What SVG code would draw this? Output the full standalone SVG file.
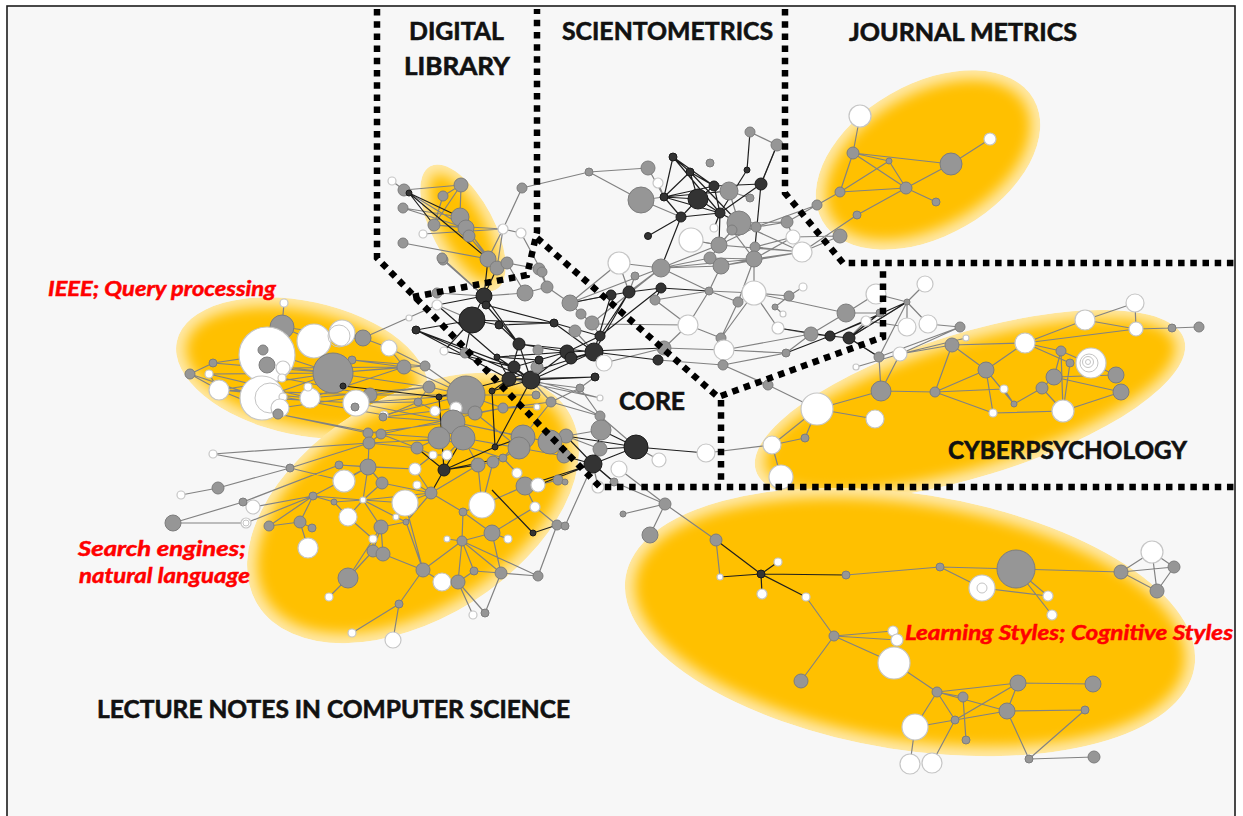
<svg xmlns="http://www.w3.org/2000/svg" width="1243" height="816" viewBox="0 0 1243 816">
<defs>
<filter id="soft" x="-30%" y="-30%" width="160%" height="160%"><feGaussianBlur stdDeviation="6.5"/></filter>
<clipPath id="cA"><ellipse cx="463" cy="228" rx="70" ry="31" transform="rotate(62 463 228)"/></clipPath>
<clipPath id="cB"><ellipse cx="928" cy="160" rx="122" ry="76" transform="rotate(-30 928 160)"/></clipPath>
<clipPath id="cC"><ellipse cx="970" cy="405" rx="224" ry="72" transform="rotate(-17 970 405)"/></clipPath>
<clipPath id="cD"><ellipse cx="910" cy="622" rx="288" ry="128" transform="rotate(9 910 622)"/></clipPath>
<clipPath id="cE"><ellipse cx="302" cy="368" rx="128" ry="67" transform="rotate(12 302 368)"/></clipPath>
<clipPath id="cF"><ellipse cx="413" cy="508" rx="183" ry="111" transform="rotate(-32 413 508)"/></clipPath>
<style>
.bg{fill:#f7f7f7;stroke:#1c1c1c;stroke-width:1.6}
.rim{fill:#FFE9A8}
.core{fill:#FFC000;filter:url(#soft)}
.eg{fill:none;stroke:#828282;stroke-width:1.2}
.ed{fill:none;stroke:#1f1f1f;stroke-width:1.2}
.g{fill:#969696;stroke:#7d7d7d;stroke-width:1}
.w{fill:#fff;stroke:#c6c6c6;stroke-width:1.2}
.d{fill:#333;stroke:#1a1a1a;stroke-width:1}
.ring{fill:none;stroke:#c4c4c4;stroke-width:1}
.zone{fill:none;stroke:#000;stroke-width:6.5;stroke-dasharray:6.5 5.7}
.lbl{font-family:Lato,'Liberation Sans',sans-serif;font-weight:bold;font-size:25px;fill:#111;stroke:#111;stroke-width:0.6}
.tag{font-family:Lato,'Liberation Sans',sans-serif;font-weight:bold;font-style:italic;font-size:21px;fill:#f00;stroke:#f00;stroke-width:0.5}
</style>
</defs>

<rect x="0" y="0" width="1243" height="816" fill="#fff"/>
<rect class="bg" x="7" y="6" width="1228" height="830"/>

<!-- community areas: pale rim with a softened solid core -->
<g id="areas">
<g clip-path="url(#cA)"><ellipse class="rim" cx="463" cy="228" rx="70" ry="31" transform="rotate(62 463 228)"/><ellipse class="core" cx="463" cy="228" rx="60" ry="22" transform="rotate(62 463 228)"/></g>
<g clip-path="url(#cB)"><ellipse class="rim" cx="928" cy="160" rx="122" ry="76" transform="rotate(-30 928 160)"/><ellipse class="core" cx="928" cy="160" rx="112" ry="66" transform="rotate(-30 928 160)"/></g>
<g clip-path="url(#cC)"><ellipse class="rim" cx="970" cy="405" rx="224" ry="72" transform="rotate(-17 970 405)"/><ellipse class="core" cx="970" cy="405" rx="214" ry="62" transform="rotate(-17 970 405)"/></g>
<g clip-path="url(#cD)"><ellipse class="rim" cx="910" cy="622" rx="288" ry="128" transform="rotate(9 910 622)"/><ellipse class="core" cx="910" cy="622" rx="278" ry="118" transform="rotate(9 910 622)"/></g>
<g clip-path="url(#cE)"><ellipse class="rim" cx="302" cy="368" rx="128" ry="67" transform="rotate(12 302 368)"/><ellipse class="core" cx="302" cy="368" rx="118" ry="57" transform="rotate(12 302 368)"/></g>
<g clip-path="url(#cF)"><ellipse class="rim" cx="413" cy="508" rx="183" ry="111" transform="rotate(-32 413 508)"/><ellipse class="core" cx="413" cy="508" rx="173" ry="101" transform="rotate(-32 413 508)"/></g>
</g>

<g id="connectors">
<path class="eg" d="M404,190L392,181M404,190L461,185M404,190L466,228M443,196L461,185M443,196L434,225M461,185L460,217M461,185L434,225M434,225L503,229M434,225L466,228M403,208L460,217M403,208L466,228M423,234L503,229M403,243L488,259M460,217L488,259M466,228L497,268M469,236L488,259M503,229L522,188M503,229L497,268M503,229L521,233M503,229L488,259M522,188L589,172M589,172L648,168M443,260L484,296M507,263L539,269M507,263L525,293M521,233L542,272M589,172L641,200M648,168L664,197"/>
<path class="eg" d="M750,132L777,145M777,145L761,184M729,191L750,198M739,223L756,227M739,223L787,222M756,227L787,222M787,222L793,237M754,259L802,252M721,266L754,259M719,245L756,227M719,245L802,252M710,258L754,259M721,266L802,252M732,230L754,259M755,247L802,252M755,247L793,237M719,245L691,240M710,258L661,268M719,245L661,268M721,266L661,268M754,259L661,268M739,223L719,245M729,191L739,223M658,183L664,197M641,200L664,197M739,223L802,252M754,259L793,237M732,230L710,258M641,200L681,217"/>
<path class="eg" d="M860,116L853,153M853,153L889,161M853,153L840,192M853,153L906,188M853,153L951,164M889,161L840,192M889,161L906,188M840,192L906,188M906,188L936,202M906,188L951,164M951,164L990,139M840,192L817,205M817,205L787,222M906,188L857,215M857,215L802,252M840,236L802,252M840,236L793,237M817,205L756,227"/>
<path class="eg" d="M619,263L661,268M619,263L629,292M661,268L629,292M661,268L709,291M754,259L754,293M754,259L738,302M721,266L709,291M709,291L738,302M738,302L754,293M754,293L789,296M789,296L803,287M789,296L775,307M775,307L783,314M754,293L846,313M738,302L721,338M721,338L724,350M688,325L664,348M688,325L655,300M635,276L629,292M661,268L570,303M661,268L592,323M688,325L591,324M664,348L604,363M721,338L688,325M724,350L786,353M724,350L811,334M664,348L724,350M723,365L724,350M723,365L768,385M768,385L817,409M723,365L786,353M778,328L811,334M754,293L778,328M811,334L846,313M846,313L876,294M846,313L880,313M876,294L907,302M786,353L811,334M570,303L611,295M570,303L581,314M581,314L592,323M592,323L600,336M575,331L594,352M570,303L547,287M547,287L525,293M525,293L484,296M542,272L547,287M539,269L547,287M442,258L484,296M437,293L484,296M437,305L472,320M691,240L719,245M688,325L709,291M655,300L709,291M619,263L570,303M754,293L721,338M709,291L754,293M658,360L723,365"/>
<path class="eg" d="M925,284L907,302M907,302L849,338M907,302L928,324M907,302L907,327M907,302L879,357M880,313L849,338M866,321L849,338M866,321L907,327M960,327L928,324M960,327L900,354M960,327L879,357M879,357L881,391M879,357L849,338M952,345L1025,343M952,345L935,392M952,345L986,370M952,345L900,354M1025,343L986,370M1025,343L1061,351M1025,343L1085,320M1085,320L1135,303M1085,320L1136,329M1135,303L1136,329M1136,329L1172,328M1172,328L1199,327M1061,351L1054,377M1061,351L1063,411M1070,363L1063,411M1054,377L1116,375M1054,377L1121,392M1054,377L1042,388M1063,411L1121,392M986,370L935,392M986,370L1014,404M986,370L993,413M935,392L1004,389M935,392L993,413M935,392L881,391M1042,388L1014,404M1042,388L1063,411M993,413L1063,411M1004,389L1014,404M881,391L817,409M817,409L875,419M817,409L805,438M817,409L772,445M900,354L881,391M1070,363L1025,343M1061,351L1116,375M805,438L772,445M856,367L900,354M900,354L966,338M1025,343L1136,329"/>
<path class="eg" d="M551,402L600,416M551,402L580,388M580,388L600,416M601,430L600,416M601,430L566,436M600,449L566,436M600,416L636,447M580,388L595,377M600,398L509,379M600,398L531,380M566,436L550,442M564,456L550,442M564,456L519,448M614,482L593,464M614,482L665,504M619,469L665,504M665,504L650,535M665,504L623,514M665,504L716,540M706,453L772,445M772,445L781,477M636,447L659,460M600,449L593,464M580,388L509,379M551,402L531,380M600,416L531,380M598,487L593,464"/>
<path class="eg" d="M716,540L720,577M846,575L940,567M940,567L1016,569M940,567L982,588M982,588L1048,596M1016,569L1048,596M1016,569L1052,615M1016,569L1121,572M1121,572L1152,552M1121,572L1174,567M1121,572L1157,591M1152,552L1157,591M1174,567L1157,591M1152,552L1174,567M806,597L834,636M834,636L893,631M834,636L894,663M834,636L801,681M894,663L937,692M937,692L1018,683M937,692L963,697M937,692L1007,711M937,692L955,720M937,692L915,727M1018,683L1093,684M1018,683L1007,711M963,697L966,740M1007,711L1085,710M1007,711L1029,759M1085,710L1029,759M1029,759L1094,757M915,727L955,720M915,727L910,764M955,720L932,763M955,720L1007,711M1018,683L955,720M834,636L897,640"/>
<path class="eg" d="M190,374L213,363M213,363L333,373M209,374L333,373M219,390L333,373M219,390L370,395M209,374L310,398M190,374L262,398M213,363L267,355M333,373L404,367M333,373L425,366M333,373L429,387M363,338L389,348M370,395L429,387M370,395L466,395M356,403L466,395M310,398L429,387M282,378L370,395M283,397L384,415M280,408L370,395M278,414L368,433M283,368L404,367M267,365L333,373M262,398L333,373M314,341L363,338M342,333L363,338M282,327L314,341M282,327L284,303M352,360L404,367M352,360L425,366M389,348L425,366M389,348L404,367M404,367L466,395M425,366L466,395M384,415L466,395M356,403L453,422M356,403L418,402M363,338L437,305M219,390L310,398M209,374L219,390M190,374L219,390M263,350L333,373M282,327L363,338M310,398L404,367M278,414L381,434M262,398L356,403M219,390L278,414"/>
<path class="eg" d="M173,523L243,502M243,502L339,465M339,465L368,467M181,495L218,488M218,488L290,468M290,468L369,443M213,454L290,468M246,523L313,496M253,507L313,496M269,526L313,496M269,526L300,522M300,522L312,528M300,522L308,548M313,496L334,502M334,502L363,500M313,496L363,500M313,496L300,522M334,502L348,517M363,500L348,517M363,500L381,527M363,500L396,517M363,500L405,503M363,500L431,493M363,500L382,483M363,500L368,467M382,483L368,467M382,483L431,493M381,527L373,551M381,527L383,554M381,527L406,522M406,522L396,517M406,522L423,570M406,522L431,493M405,503L431,493M431,493L463,512M431,493L417,485M431,493L415,469M431,493L478,465M463,512L492,533M463,512L462,541M463,512L482,505M462,541L492,533M462,541L447,539M462,541L423,570M462,541L474,571M462,541L501,573M462,541L458,582M492,533L508,539M492,533L501,573M423,570L383,554M423,570L442,582M423,570L399,604M399,604L352,633M399,604L393,640M458,582L474,571M474,571L501,573M501,573L485,613M458,582L485,613M458,582L473,615M348,578L329,597M348,578L373,551M373,539L373,551M373,551L383,554M373,539L348,517M308,548L300,522M368,467L344,481M368,467L415,469M368,467L369,443M369,443L417,448M369,443L381,434M381,434L417,448M417,448L439,438M417,448L433,455M415,469L433,455M433,455L447,455M447,455L463,438M478,465L463,438M478,465L493,462M493,462L503,458M503,458L519,448M503,458L523,437M478,465L482,505M482,505L525,486M482,505L493,462M525,486L538,485M525,486L517,473M517,473L503,458M538,485L558,480M558,480L565,482M535,507L557,525M557,525L565,526M557,525L538,576M535,507L492,533M525,486L535,507M453,422L523,437M466,395L503,408M503,408L551,402M503,408L537,407M475,413L503,408M475,413L519,448M466,395L536,395M453,422L550,442M439,438L503,458M463,438L519,448M523,437L550,442M550,442L566,436M523,437L551,402M418,402L429,387M418,402L435,411M435,411L456,408M456,408L466,395M429,387L466,395M383,417L418,402M383,417L435,411M368,433L453,422M381,434L439,438M369,443L463,438M383,417L453,422M381,434L503,408M173,523L246,523M290,468L344,481M405,503L423,570M462,541L538,576M501,573L538,576M348,578L381,527M442,582L458,582M565,526L593,464M213,454L369,443M339,465L415,469M313,496L368,467"/>
<path class="ed" d="M673,157L690,172M673,157L664,197M673,157L714,186M690,172L698,199M690,172L714,186M690,172L664,197M664,197L698,199M664,197L681,217M664,197L714,186M664,197L720,213M664,197L729,191M698,199L714,186M698,199L720,213M698,199L681,217M714,186L720,213M681,217L720,213M681,217L648,236M681,217L661,268M720,213L739,223M720,213L714,228M747,170L720,213M761,184L720,213M761,184L777,145M747,170L750,132M714,186L761,184M690,172L739,223M673,157L720,213M720,213L719,245M761,184L755,247M409,193L434,225M409,193L488,259M409,193L460,217"/>
<path class="ed" d="M484,296L472,320M484,296L486,305M484,296L437,305M484,296L519,344M472,320L416,330M472,320L499,325M472,320L465,353M472,320L444,351M486,305L519,344M486,305L554,323M499,325L519,344M499,325L554,323M519,344L509,379M519,344L531,380M519,344L567,352M519,344L594,352M497,357L509,379M497,357L531,380M497,357L567,352M514,367L531,380M514,367L567,352M509,379L531,380M509,379L594,352M531,380L594,352M531,380L567,352M554,323L594,352M554,323L600,336M567,352L600,336M571,358L594,352M594,352L611,295M594,352L629,292M600,336L629,292M594,352L658,360M600,336L661,288M416,330L509,379M437,305L497,357M509,379L439,397M509,379L492,391M531,380L492,391M531,380L595,377M595,377L509,379M416,330L531,380M472,320L554,323M567,352L664,348M629,292L611,295M629,292L661,288M661,288L709,291M611,295L570,303M661,288L655,300M488,259L484,296M497,268L484,296M539,360L531,380M539,360L497,357M416,330L514,367M444,351L514,367"/>
<path class="ed" d="M439,397L444,470M444,470L495,447M444,470L417,448M444,470L431,493M444,470L463,438M444,470L478,465M444,470L503,458M495,447L523,437M495,447L531,380M533,533L557,525M533,533L492,490M343,386L439,397M492,391L495,447M593,464L636,447M593,464L566,436M593,464L564,456M593,464L525,486M593,464L538,485M636,447L600,449M636,447L601,430M636,447L566,436M636,447L706,453M593,464L601,430M593,464L614,482M811,334L830,336M830,336L849,338M849,338L880,313M849,338L907,302M830,336L907,302M830,336L866,321M849,338L879,357M786,353L830,336M778,328L830,336M716,540L761,574M761,574L778,562M761,574L762,594M761,574L806,597M761,574L846,575M720,577L761,574"/>
</g>

<g id="cluster-digital-library">
<circle id="n1" class="w" cx="392" cy="181" r="4"/><circle id="n2" class="g" cx="404" cy="190" r="6"/><circle id="n3" class="d" cx="409" cy="193" r="3"/><circle id="n4" class="g" cx="461" cy="185" r="7"/><circle id="n5" class="g" cx="443" cy="196" r="5"/><circle id="n6" class="g" cx="403" cy="208" r="5"/><circle id="n7" class="g" cx="434" cy="225" r="6"/><circle id="n8" class="w" cx="423" cy="234" r="4"/><circle id="n9" class="g" cx="460" cy="217" r="9"/><circle id="n10" class="g" cx="466" cy="228" r="8"/><circle id="n11" class="g" cx="469" cy="236" r="6"/><circle id="n12" class="g" cx="403" cy="243" r="5"/><circle id="n13" class="w" cx="503" cy="229" r="5"/><circle id="n14" class="w" cx="521" cy="233" r="5"/><circle id="n15" class="g" cx="522" cy="188" r="5"/><circle id="n16" class="g" cx="443" cy="260" r="5"/><circle id="n17" class="g" cx="488" cy="259" r="8"/><circle id="n18" class="g" cx="497" cy="268" r="7"/><circle id="n19" class="g" cx="507" cy="263" r="6"/><circle id="n20" class="g" cx="539" cy="269" r="6"/>
</g>

<g id="cluster-scientometrics">
<circle id="n21" class="g" cx="589" cy="172" r="4"/><circle id="n22" class="g" cx="648" cy="168" r="7"/><circle id="n23" class="w" cx="658" cy="183" r="5"/><circle id="n24" class="g" cx="641" cy="200" r="13"/><circle id="n25" class="d" cx="673" cy="157" r="4"/><circle id="n26" class="d" cx="690" cy="172" r="4"/><circle id="n27" class="g" cx="710" cy="163" r="4"/><circle id="n28" class="d" cx="664" cy="197" r="4"/><circle id="n29" class="d" cx="698" cy="199" r="10"/><circle id="n30" class="d" cx="714" cy="186" r="5"/><circle id="n31" class="g" cx="729" cy="191" r="9"/><circle id="n32" class="g" cx="750" cy="132" r="5"/><circle id="n33" class="g" cx="777" cy="145" r="6"/><circle id="n34" class="d" cx="747" cy="170" r="3"/><circle id="n35" class="d" cx="761" cy="184" r="6"/><circle id="n36" class="g" cx="750" cy="198" r="4"/><circle id="n37" class="d" cx="681" cy="217" r="5"/><circle id="n38" class="d" cx="720" cy="213" r="5"/><circle id="n39" class="g" cx="739" cy="223" r="12"/><circle id="n40" class="w" cx="714" cy="228" r="4"/><circle id="n41" class="g" cx="732" cy="230" r="5"/><circle id="n42" class="d" cx="648" cy="236" r="3.5"/><circle id="n43" class="w" cx="691" cy="240" r="12"/><circle id="n44" class="g" cx="719" cy="245" r="8"/><circle id="n45" class="g" cx="756" cy="227" r="5"/><circle id="n46" class="g" cx="787" cy="222" r="6"/><circle id="n47" class="g" cx="755" cy="247" r="5"/><circle id="n48" class="w" cx="793" cy="237" r="7"/><circle id="n49" class="w" cx="802" cy="252" r="10"/><circle id="n50" class="g" cx="710" cy="258" r="6"/><circle id="n51" class="g" cx="754" cy="259" r="8"/><circle id="n52" class="g" cx="721" cy="266" r="8"/>
</g>

<g id="cluster-journal-metrics">
<circle id="n53" class="w" cx="860" cy="116" r="11"/><circle id="n54" class="g" cx="853" cy="153" r="6"/><circle id="n55" class="g" cx="889" cy="161" r="3"/><circle id="n56" class="g" cx="951" cy="164" r="11"/><circle id="n57" class="w" cx="990" cy="139" r="6"/><circle id="n58" class="g" cx="840" cy="192" r="5"/><circle id="n59" class="g" cx="906" cy="188" r="6"/><circle id="n60" class="g" cx="936" cy="202" r="4"/><circle id="n61" class="g" cx="817" cy="205" r="5"/><circle id="n62" class="g" cx="857" cy="215" r="4"/><circle id="n63" class="g" cx="840" cy="236" r="7"/>
</g>

<g id="cluster-core">
<circle id="n64" class="w" cx="619" cy="263" r="11"/><circle id="n65" class="g" cx="661" cy="268" r="9"/><circle id="n66" class="g" cx="635" cy="276" r="4"/><circle id="n67" class="d" cx="629" cy="292" r="6"/><circle id="n68" class="d" cx="611" cy="295" r="5"/><circle id="n69" class="d" cx="661" cy="288" r="5"/><circle id="n70" class="g" cx="709" cy="291" r="4"/><circle id="n71" class="w" cx="754" cy="293" r="12"/><circle id="n72" class="w" cx="803" cy="287" r="4"/><circle id="n73" class="g" cx="789" cy="296" r="5"/><circle id="n74" class="g" cx="738" cy="302" r="5"/><circle id="n75" class="g" cx="655" cy="300" r="5"/><circle id="n76" class="g" cx="775" cy="307" r="3"/><circle id="n77" class="w" cx="783" cy="314" r="3"/><circle id="n78" class="g" cx="570" cy="303" r="8"/><circle id="n79" class="g" cx="581" cy="314" r="5"/><circle id="n80" class="g" cx="592" cy="323" r="7"/><circle id="n81" class="w" cx="688" cy="325" r="10"/><circle id="n82" class="d" cx="600" cy="336" r="5"/><circle id="n83" class="g" cx="575" cy="331" r="6"/><circle id="n84" class="d" cx="594" cy="352" r="9"/><circle id="n85" class="w" cx="604" cy="363" r="8"/><circle id="n86" class="g" cx="664" cy="348" r="7"/><circle id="n87" class="d" cx="658" cy="360" r="5"/><circle id="n88" class="g" cx="721" cy="338" r="5"/><circle id="n89" class="w" cx="724" cy="350" r="10"/><circle id="n90" class="w" cx="778" cy="328" r="6"/><circle id="n91" class="g" cx="811" cy="334" r="7"/><circle id="n92" class="d" cx="830" cy="336" r="5"/><circle id="n93" class="d" cx="849" cy="338" r="6"/><circle id="n94" class="g" cx="846" cy="313" r="9"/><circle id="n95" class="w" cx="876" cy="294" r="10"/><circle id="n96" class="g" cx="786" cy="353" r="4"/><circle id="n97" class="g" cx="723" cy="365" r="5"/><circle id="n98" class="g" cx="768" cy="385" r="5"/>
<circle id="n99" class="d" cx="484" cy="296" r="8"/><circle id="n100" class="d" cx="486" cy="305" r="4"/><circle id="n101" class="w" cx="437" cy="305" r="5"/><circle id="n102" class="w" cx="409" cy="318" r="3"/><circle id="n103" class="d" cx="472" cy="320" r="13"/><circle id="n104" class="d" cx="416" cy="330" r="4"/><circle id="n105" class="d" cx="499" cy="325" r="4"/><circle id="n106" class="d" cx="554" cy="323" r="4"/><circle id="n107" class="d" cx="519" cy="344" r="6"/><circle id="n108" class="d" cx="497" cy="357" r="3"/><circle id="n109" class="g" cx="465" cy="353" r="5"/><circle id="n110" class="w" cx="444" cy="351" r="4"/><circle id="n111" class="d" cx="514" cy="367" r="6"/><circle id="n112" class="d" cx="509" cy="379" r="7"/><circle id="n113" class="d" cx="531" cy="380" r="9"/><circle id="n114" class="g" cx="537" cy="367" r="6"/><circle id="n115" class="d" cx="539" cy="360" r="4"/><circle id="n116" class="d" cx="567" cy="352" r="7"/><circle id="n117" class="d" cx="571" cy="358" r="6"/><circle id="n118" class="g" cx="538" cy="350" r="5"/><circle id="n119" class="d" cx="492" cy="391" r="3"/><circle id="n120" class="g" cx="536" cy="395" r="4"/><circle id="n121" class="g" cx="442" cy="258" r="5"/><circle id="n122" class="g" cx="437" cy="293" r="5"/><circle id="n123" class="g" cx="525" cy="293" r="8"/><circle id="n124" class="g" cx="547" cy="287" r="6"/><circle id="n125" class="g" cx="542" cy="272" r="5"/>
<circle id="n126" class="d" cx="595" cy="377" r="4"/><circle id="n127" class="g" cx="580" cy="388" r="4"/><circle id="n128" class="w" cx="600" cy="398" r="3"/><circle id="n129" class="g" cx="551" cy="402" r="5"/><circle id="n130" class="g" cx="600" cy="416" r="5"/><circle id="n131" class="g" cx="601" cy="430" r="10"/><circle id="n132" class="g" cx="566" cy="436" r="7"/><circle id="n133" class="g" cx="600" cy="449" r="7"/><circle id="n134" class="d" cx="636" cy="447" r="12"/><circle id="n135" class="w" cx="706" cy="453" r="9"/><circle id="n136" class="w" cx="619" cy="469" r="8"/><circle id="n137" class="w" cx="659" cy="460" r="7"/><circle id="n138" class="d" cx="593" cy="464" r="9"/><circle id="n139" class="g" cx="564" cy="456" r="7"/><circle id="n140" class="g" cx="614" cy="482" r="4"/><circle id="n141" class="w" cx="598" cy="487" r="6"/>
</g>

<g id="cluster-cyberpsychology">
<circle id="n142" class="w" cx="925" cy="284" r="8"/><circle id="n143" class="g" cx="907" cy="302" r="3"/><circle id="n144" class="w" cx="866" cy="321" r="5"/><circle id="n145" class="w" cx="907" cy="327" r="9"/><circle id="n146" class="w" cx="928" cy="324" r="9"/><circle id="n147" class="g" cx="880" cy="313" r="4"/><circle id="n148" class="g" cx="960" cy="327" r="5"/><circle id="n149" class="g" cx="879" cy="357" r="5"/><circle id="n150" class="w" cx="900" cy="354" r="7"/><circle id="n151" class="w" cx="856" cy="367" r="3"/><circle id="n152" class="w" cx="966" cy="338" r="3"/><circle id="n153" class="g" cx="952" cy="345" r="7"/><circle id="n154" class="w" cx="1025" cy="343" r="10"/><circle id="n155" class="w" cx="1135" cy="303" r="9"/><circle id="n156" class="w" cx="1085" cy="320" r="10"/><circle id="n157" class="w" cx="1136" cy="329" r="7"/><circle id="n158" class="g" cx="1172" cy="328" r="4"/><circle id="n159" class="g" cx="1199" cy="327" r="5"/><circle id="n160" class="g" cx="1061" cy="351" r="5"/><circle id="n161" class="g" cx="1070" cy="363" r="4"/>
<circle id="n162" class="w" cx="1091" cy="363" r="15"/><circle class="ring" cx="1089" cy="363" r="9"/><circle class="ring" cx="1088" cy="362" r="5.5"/><circle class="ring" cx="1088" cy="362" r="2.5"/>
<circle id="n163" class="g" cx="1116" cy="375" r="8"/><circle id="n164" class="g" cx="1121" cy="392" r="8"/><circle id="n165" class="g" cx="986" cy="370" r="8"/><circle id="n166" class="g" cx="1054" cy="377" r="8"/><circle id="n167" class="g" cx="1042" cy="388" r="6"/><circle id="n168" class="w" cx="1004" cy="389" r="4"/><circle id="n169" class="g" cx="1014" cy="404" r="3"/><circle id="n170" class="w" cx="993" cy="413" r="4"/><circle id="n171" class="w" cx="1063" cy="411" r="11"/><circle id="n172" class="g" cx="935" cy="392" r="5"/><circle id="n173" class="g" cx="881" cy="391" r="10"/><circle id="n174" class="w" cx="817" cy="409" r="16"/><circle id="n175" class="w" cx="875" cy="419" r="9"/><circle id="n176" class="g" cx="805" cy="438" r="4"/><circle id="n177" class="w" cx="772" cy="445" r="9"/><circle id="n178" class="w" cx="781" cy="477" r="12"/>
</g>

<g id="cluster-ieee">
<circle id="n179" class="w" cx="284" cy="303" r="4"/><circle id="n180" class="g" cx="282" cy="327" r="12"/><circle id="n181" class="w" cx="267" cy="355" r="28"/><circle id="n182" class="g" cx="263" cy="350" r="5"/><circle id="n183" class="g" cx="267" cy="365" r="8"/><circle id="n184" class="w" cx="283" cy="368" r="7"/><circle id="n185" class="w" cx="282" cy="378" r="4"/><circle id="n186" class="w" cx="314" cy="341" r="17"/><circle id="n187" class="w" cx="342" cy="333" r="13"/><circle class="ring" cx="339" cy="336" r="11"/><circle id="n188" class="g" cx="363" cy="338" r="8"/><circle id="n189" class="g" cx="352" cy="360" r="4"/><circle id="n190" class="g" cx="333" cy="373" r="20"/><circle id="n191" class="d" cx="343" cy="386" r="3"/><circle id="n192" class="g" cx="370" cy="395" r="7"/><circle id="n193" class="w" cx="356" cy="403" r="13"/><circle id="n194" class="g" cx="355" cy="407" r="4"/><circle id="n195" class="w" cx="310" cy="398" r="10"/><circle id="n196" class="w" cx="308" cy="387" r="4"/><circle id="n197" class="w" cx="262" cy="398" r="22"/><circle class="ring" cx="270" cy="398" r="15"/><circle id="n198" class="w" cx="283" cy="397" r="4"/><circle id="n199" class="w" cx="280" cy="408" r="9"/><circle id="n200" class="g" cx="278" cy="414" r="5"/><circle id="n201" class="w" cx="219" cy="390" r="10"/><circle id="n202" class="w" cx="209" cy="374" r="4"/><circle id="n203" class="g" cx="213" cy="363" r="4"/><circle id="n204" class="g" cx="190" cy="374" r="5"/><circle id="n205" class="w" cx="384" cy="415" r="4"/><circle id="n206" class="w" cx="389" cy="348" r="8"/><circle id="n207" class="g" cx="404" cy="367" r="7"/><circle id="n208" class="g" cx="425" cy="366" r="5"/>
</g>

<g id="cluster-lncs">
<circle id="n209" class="g" cx="368" cy="433" r="5"/><circle id="n210" class="g" cx="381" cy="434" r="5"/><circle id="n211" class="g" cx="429" cy="387" r="6"/><circle id="n212" class="d" cx="439" cy="397" r="3"/><circle id="n213" class="g" cx="466" cy="395" r="19"/><circle id="n214" class="w" cx="456" cy="408" r="6"/><circle id="n215" class="g" cx="475" cy="413" r="7"/><circle id="n216" class="w" cx="435" cy="411" r="5"/><circle id="n217" class="g" cx="418" cy="402" r="4"/><circle id="n218" class="g" cx="503" cy="408" r="5"/><circle id="n219" class="g" cx="453" cy="422" r="12"/><circle id="n220" class="g" cx="439" cy="438" r="11"/><circle id="n221" class="g" cx="463" cy="438" r="12"/><circle id="n222" class="w" cx="447" cy="455" r="5"/><circle id="n223" class="w" cx="433" cy="455" r="4"/><circle id="n224" class="g" cx="417" cy="448" r="6"/><circle id="n225" class="d" cx="495" cy="447" r="3"/><circle id="n226" class="g" cx="523" cy="437" r="12"/><circle id="n227" class="g" cx="519" cy="448" r="11"/><circle id="n228" class="g" cx="550" cy="442" r="12"/><circle id="n229" class="g" cx="503" cy="458" r="4"/><circle id="n230" class="g" cx="478" cy="465" r="7"/><circle id="n231" class="g" cx="493" cy="462" r="6"/><circle id="n232" class="d" cx="444" cy="470" r="6"/><circle id="n233" class="w" cx="517" cy="473" r="5"/><circle id="n234" class="g" cx="525" cy="486" r="9"/><circle id="n235" class="w" cx="538" cy="485" r="7"/><circle id="n236" class="g" cx="558" cy="480" r="5"/><circle id="n237" class="g" cx="565" cy="482" r="3"/><circle id="n238" class="w" cx="535" cy="507" r="5"/><circle id="n239" class="d" cx="533" cy="533" r="3"/><circle id="n240" class="g" cx="557" cy="525" r="5"/><circle id="n241" class="g" cx="565" cy="526" r="4"/><circle id="n242" class="g" cx="538" cy="576" r="5"/><circle id="n243" class="w" cx="482" cy="505" r="13"/><circle id="n244" class="g" cx="492" cy="533" r="8"/><circle id="n245" class="w" cx="508" cy="539" r="4"/><circle id="n246" class="g" cx="463" cy="512" r="4"/><circle id="n247" class="w" cx="405" cy="503" r="13"/><circle id="n248" class="g" cx="431" cy="493" r="6"/><circle id="n249" class="w" cx="415" cy="469" r="6"/><circle id="n250" class="w" cx="417" cy="485" r="4"/><circle id="n251" class="g" cx="382" cy="483" r="6"/><circle id="n252" class="g" cx="368" cy="467" r="8"/><circle id="n253" class="w" cx="344" cy="481" r="11"/><circle id="n254" class="g" cx="339" cy="465" r="4"/><circle id="n255" class="g" cx="290" cy="468" r="4"/><circle id="n256" class="g" cx="313" cy="496" r="4"/><circle id="n257" class="g" cx="334" cy="502" r="3"/><circle id="n258" class="w" cx="363" cy="500" r="3"/><circle id="n259" class="w" cx="348" cy="517" r="9"/><circle id="n260" class="g" cx="381" cy="527" r="7"/><circle id="n261" class="w" cx="396" cy="517" r="3"/><circle id="n262" class="g" cx="406" cy="522" r="3"/><circle id="n263" class="g" cx="300" cy="522" r="6"/><circle id="n264" class="g" cx="312" cy="528" r="4"/><circle id="n265" class="g" cx="269" cy="526" r="5"/><circle id="n266" class="w" cx="253" cy="507" r="7"/><circle id="n267" class="g" cx="243" cy="502" r="4"/><circle id="n268" class="w" cx="246" cy="523" r="5"/><circle class="ring" cx="246" cy="523" r="3"/><circle id="n269" class="g" cx="218" cy="488" r="6"/><circle id="n270" class="w" cx="181" cy="495" r="4"/><circle id="n271" class="g" cx="173" cy="523" r="8"/><circle id="n272" class="w" cx="213" cy="454" r="4"/><circle id="n273" class="w" cx="308" cy="548" r="10"/><circle id="n274" class="w" cx="373" cy="539" r="4"/><circle id="n275" class="g" cx="373" cy="551" r="6"/><circle id="n276" class="g" cx="383" cy="554" r="7"/><circle id="n277" class="w" cx="447" cy="539" r="3"/><circle id="n278" class="g" cx="462" cy="541" r="5"/><circle id="n279" class="g" cx="423" cy="570" r="7"/><circle id="n280" class="w" cx="442" cy="582" r="9"/><circle id="n281" class="g" cx="458" cy="582" r="7"/><circle id="n282" class="g" cx="474" cy="571" r="4"/><circle id="n283" class="g" cx="501" cy="573" r="6"/><circle id="n284" class="g" cx="348" cy="578" r="10"/><circle id="n285" class="w" cx="329" cy="597" r="4"/><circle id="n286" class="g" cx="399" cy="604" r="4"/><circle id="n287" class="w" cx="352" cy="633" r="4"/><circle id="n288" class="w" cx="393" cy="640" r="8"/><circle id="n289" class="w" cx="473" cy="615" r="4"/><circle id="n290" class="g" cx="485" cy="613" r="4"/><circle id="n291" class="w" cx="537" cy="407" r="3"/><circle id="n292" class="g" cx="369" cy="443" r="6"/><circle id="n293" class="g" cx="383" cy="417" r="4"/>
</g>

<g id="cluster-learning-styles">
<circle id="n294" class="g" cx="665" cy="504" r="6"/><circle id="n295" class="g" cx="623" cy="514" r="3"/><circle id="n296" class="g" cx="650" cy="535" r="8"/><circle id="n297" class="g" cx="716" cy="540" r="6"/><circle id="n298" class="w" cx="720" cy="577" r="3"/><circle id="n299" class="d" cx="761" cy="574" r="4"/><circle id="n300" class="w" cx="778" cy="562" r="4"/><circle id="n301" class="w" cx="762" cy="594" r="5"/><circle id="n302" class="w" cx="806" cy="597" r="4"/><circle id="n303" class="g" cx="846" cy="575" r="4"/><circle id="n304" class="g" cx="940" cy="567" r="4"/><circle id="n305" class="g" cx="1016" cy="569" r="19"/><circle id="n306" class="w" cx="982" cy="588" r="13"/><circle class="ring" cx="982" cy="588" r="5"/><circle id="n307" class="w" cx="1048" cy="596" r="5"/><circle id="n308" class="w" cx="1052" cy="615" r="5"/><circle id="n309" class="g" cx="1121" cy="572" r="7"/><circle id="n310" class="w" cx="1152" cy="552" r="11"/><circle id="n311" class="g" cx="1174" cy="567" r="6"/><circle id="n312" class="g" cx="1157" cy="591" r="7"/><circle id="n313" class="g" cx="834" cy="636" r="5"/><circle id="n314" class="w" cx="893" cy="631" r="5"/><circle id="n315" class="w" cx="897" cy="640" r="6"/><circle id="n316" class="w" cx="894" cy="663" r="16"/><circle id="n317" class="g" cx="801" cy="681" r="7"/><circle id="n318" class="g" cx="937" cy="692" r="5"/><circle id="n319" class="g" cx="1018" cy="683" r="8"/><circle id="n320" class="g" cx="1093" cy="684" r="8"/><circle id="n321" class="g" cx="963" cy="697" r="5"/><circle id="n322" class="g" cx="1007" cy="711" r="8"/><circle id="n323" class="g" cx="955" cy="720" r="4"/><circle id="n324" class="w" cx="915" cy="727" r="13"/><circle id="n325" class="g" cx="966" cy="740" r="4"/><circle id="n326" class="g" cx="1085" cy="710" r="4"/><circle id="n327" class="g" cx="1029" cy="759" r="4"/><circle id="n328" class="g" cx="1094" cy="757" r="6"/><circle id="n329" class="w" cx="910" cy="764" r="10"/><circle id="n330" class="w" cx="932" cy="763" r="10"/>
</g>

<!-- journal-space boundaries -->
<g id="boundaries">
<path class="zone" d="M377,9V258L600,487H1235"/>
<path class="zone" d="M413,297L527,275L537,232V9"/>
<path class="zone" d="M537,238L718,397L883,337V266"/>
<path class="zone" d="M721,400V484"/>
<path class="zone" d="M785,9V193L843,263H1235"/>
</g>

<g id="labels">
<text class="lbl" x="409" y="40" textLength="95" lengthAdjust="spacingAndGlyphs">DIGITAL</text>
<text class="lbl" x="404" y="75" textLength="106" lengthAdjust="spacingAndGlyphs">LIBRARY</text>
<text class="lbl" x="562" y="40" textLength="211" lengthAdjust="spacingAndGlyphs">SCIENTOMETRICS</text>
<text class="lbl" x="849" y="41" textLength="228" lengthAdjust="spacingAndGlyphs">JOURNAL METRICS</text>
<text class="lbl" x="619" y="410" textLength="66" lengthAdjust="spacingAndGlyphs">CORE</text>
<text class="lbl" x="948" y="459" textLength="239" lengthAdjust="spacingAndGlyphs">CYBERPSYCHOLOGY</text>
<text class="lbl" x="97" y="718" textLength="473" lengthAdjust="spacingAndGlyphs">LECTURE NOTES IN COMPUTER SCIENCE</text>
<text class="tag" x="48" y="296" textLength="228" lengthAdjust="spacingAndGlyphs">IEEE; Query processing</text>
<text class="tag" x="78" y="556" textLength="168" lengthAdjust="spacingAndGlyphs">Search engines;</text>
<text class="tag" x="79" y="583" textLength="171" lengthAdjust="spacingAndGlyphs">natural language</text>
<text class="tag" x="905" y="640" textLength="328" lengthAdjust="spacingAndGlyphs">Learning Styles; Cognitive Styles</text>
</g>
</svg>
